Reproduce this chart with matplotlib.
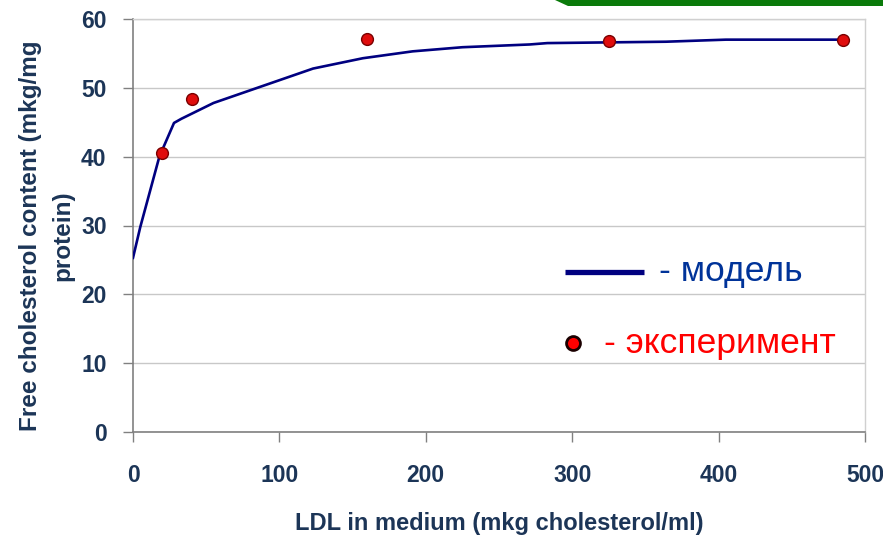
import matplotlib
matplotlib.use("Agg")
import matplotlib.pyplot as plt
from matplotlib.lines import Line2D
from matplotlib.patches import Polygon

# model curve
model_x = [0, 5, 18, 28, 33, 55, 89, 123, 157, 191, 225, 271, 283, 364, 405, 485]
model_y = [25.3, 29.8, 40.0, 44.9, 45.5, 47.8, 50.3, 52.8, 54.3, 55.3, 55.9, 56.3, 56.5, 56.7, 57.0, 57.0]

# experiment points
exp_x = [20, 40, 160, 325, 485]
exp_y = [40.6, 48.4, 57.1, 56.8, 57.0]

x_ticks = [0, 100, 200, 300, 400, 500]
y_ticks = [0, 10, 20, 30, 40, 50, 60]

NAVY = "#1c3557"
ARIAL = ["Liberation Sans", "DejaVu Sans"]

fig = plt.figure(figsize=(8.83, 5.45), dpi=100)
ax = fig.add_axes([133 / 883, 113 / 545, 732 / 883, 413 / 545])

# green bar on top right
fig.patches.append(Polygon([[555 / 883, 1.0], [883 / 883, 1.0], [883 / 883, 539 / 545],
                            [568 / 883, 539 / 545]], closed=True,
                           transform=fig.transFigure, facecolor="#0a7a0a", edgecolor="none"))

ax.plot(model_x, model_y, color="#000080", lw=1.9, zorder=3)
ax.plot(exp_x, exp_y, "o", ms=8.5, mfc="#e00d0d", mec="#7a0000", mew=1.0, zorder=4)

ax.set_xlim(0, 500)
ax.set_ylim(0, 60)
ax.set_xticks(x_ticks)
ax.set_yticks(y_ticks)
ax.yaxis.grid(True, color="#c8c8c8", lw=1.0)
ax.set_axisbelow(True)

for s in ["top", "right"]:
    ax.spines[s].set_color("#d0d0d0")
    ax.spines[s].set_linewidth(1.0)
for s in ["left", "bottom"]:
    ax.spines[s].set_color("#808080")
    ax.spines[s].set_linewidth(1.2)

ax.tick_params(axis="both", direction="out", length=7, width=1.0, color="#808080",
               labelcolor=NAVY)
ax.tick_params(axis="x", pad=16)
ax.tick_params(axis="y", pad=12)
for lab in ax.get_xticklabels() + ax.get_yticklabels():
    lab.set_family(ARIAL)
    lab.set_fontweight("bold")
    lab.set_fontsize(16.5)

ax.set_xlabel("LDL in medium (mkg cholesterol/ml)", fontsize=17, fontweight="bold",
              family=ARIAL, color=NAVY, labelpad=18)
ax.set_ylabel("Free cholesterol content (mkg/mg\nprotein)", fontsize=17.5, fontweight="bold",
              family=ARIAL, color=NAVY, linespacing=1.5)
ax.yaxis.set_label_coords(-0.08, 0.475)

# legend drawn by hand, as in the source
fig.lines.append(Line2D([565 / 883, 644 / 883], [1 - 272 / 545] * 2, transform=fig.transFigure,
                        color="#000080", lw=3.8, solid_capstyle="butt"))
fig.text(659 / 883, 1 - 272 / 545, "- модель", fontsize=25.5, color="#003399",
         family=ARIAL, va="center", ha="left")
fig.lines.append(Line2D([573 / 883], [1 - 343 / 545], transform=fig.transFigure, marker="o",
                        ms=10, mfc="#ff0000", mec="#1a0000", mew=2))
fig.text(604 / 883, 1 - 343 / 545, "- эксперимент", fontsize=25.5, color="#ff0000",
         family=ARIAL, va="center", ha="left")

fig.savefig("out.png", dpi=100)
